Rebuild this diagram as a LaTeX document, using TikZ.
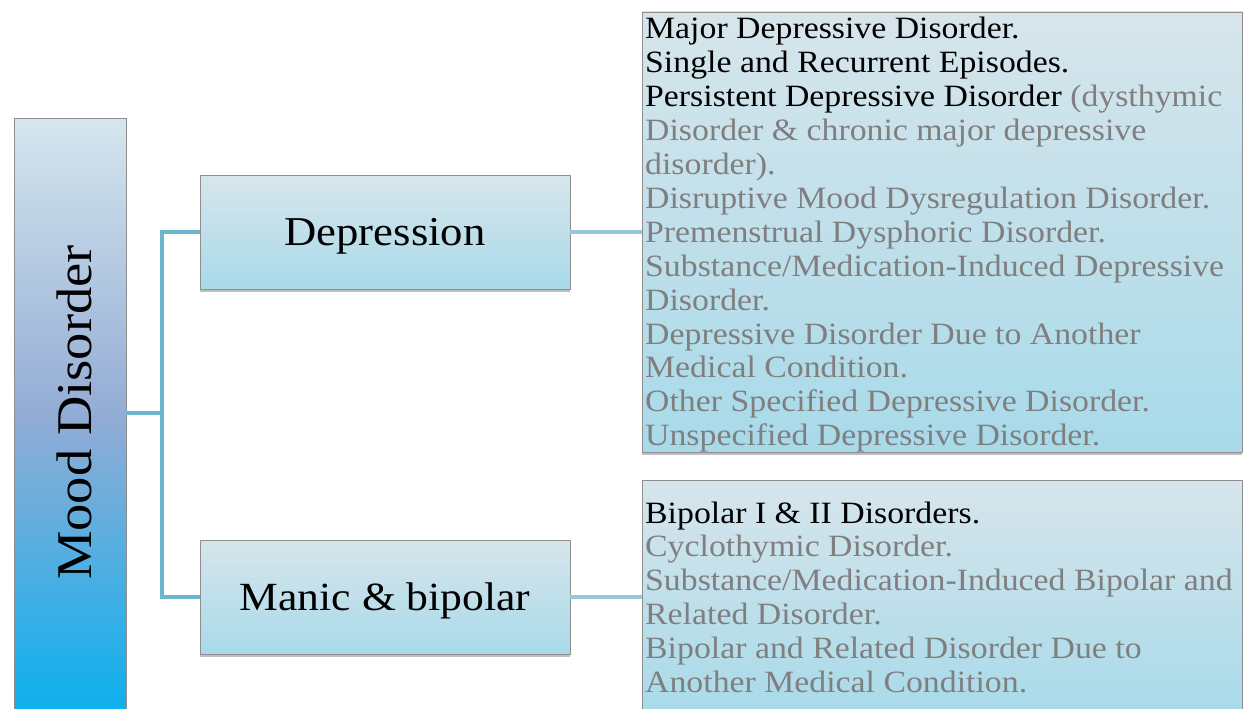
\documentclass[tikz,border=0pt]{standalone}
\usepackage{fontspec}
\setmainfont{Liberation Serif}[FakeStretch=1.09]
\usetikzlibrary{shadows}
\definecolor{connA}{HTML}{6DB5CD}
\definecolor{connB}{HTML}{96C8DA}
\definecolor{edge}{HTML}{8E8E8E}
\definecolor{txtgray}{HTML}{7F7F7F}
\definecolor{boxtop}{HTML}{D7E5EB}
\definecolor{boxbot}{HTML}{A8DAEA}
\definecolor{moodtop}{HTML}{D5E6EE}
\definecolor{moodmid}{HTML}{93ACD5}
\definecolor{moodbot}{HTML}{0CB0EE}
\tikzset{
  shbox/.style={draw=edge, line width=0.8pt, top color=boxtop, bottom color=boxbot,
    drop shadow={shadow xshift=0pt, shadow yshift=-3pt, opacity=0.25, fill=black},
    inner sep=0pt},
  conn/.style={line width=4pt, draw=connA},
  conn2/.style={line width=4pt, draw=connB},
  big/.style={font=\fontsize{41}{48}\selectfont, text height=32pt, text depth=6pt},
}
\begin{document}
\begin{tikzpicture}[x=1pt,y=-1pt]
\useasboundingbox (0,0) rectangle (1253,709);
\fill[white] (0,0) rectangle (1253,709);

% boxes
\node[shbox, top color=moodtop, bottom color=moodbot, middle color=moodmid,
      minimum width=112pt, minimum height=594pt] (mood) at (70,415) {};
\node[rotate=90, anchor=base, font=\fontsize{50}{60}\selectfont] (moodlabel) at (91,412.5) {Mood Disorder};

\node[shbox, big, minimum width=370pt, minimum height=114pt] (dep) at (385,232) {Depression};
\node[shbox, big, font=\fontsize{40}{48}\selectfont, minimum width=370pt, minimum height=114pt] (man) at (385,597) {Manic \& bipolar};

\node[shbox, minimum width=600pt, minimum height=440pt] (deplist) at (942,232) {};
\node[shbox, minimum width=600pt, minimum height=234pt] (manlist) at (942,597) {};

% list texts
\node[anchor=base west, inner sep=0pt, font=\fontsize{31}{33.9}\selectfont] (deptext) at (645,39)
 {\parbox[t]{600pt}{\raggedright\baselineskip=33.9pt
  Major Depressive Disorder.\\
  Single and Recurrent Episodes.\\
  Persistent Depressive Disorder \textcolor{txtgray}{(dysthymic}\\
  \color{txtgray}Disorder \& chronic major depressive\\
  disorder).\\
  Disruptive Mood Dysregulation Disorder.\\
  Premenstrual Dysphoric Disorder.\\
  Substance/Medication-Induced Depressive\\
  Disorder.\\
  Depressive Disorder Due to Another\\
  Medical Condition.\\
  Other Specified Depressive Disorder.\\
  Unspecified Depressive Disorder.}};

\node[anchor=base west, inner sep=0pt, font=\fontsize{31}{33.9}\selectfont] (mantext) at (645,523)
 {\parbox[t]{600pt}{\raggedright\baselineskip=33.9pt
  Bipolar I \& II Disorders.\\
  \color{txtgray}Cyclothymic Disorder.\\
  Substance/Medication-Induced Bipolar and\\
  Related Disorder.\\
  Bipolar and Related Disorder Due to\\
  Another Medical Condition.}};

% connectors
\coordinate (jn) at (162,413);
\draw[conn] (mood.east |- jn) -- (jn);
\draw[conn] (dep.west) -| (jn) |- (man.west);
\draw[conn2] (dep.east) -- (deplist.west);
\draw[conn2] (man.east) -- (manlist.west);
\end{tikzpicture}
\end{document}
